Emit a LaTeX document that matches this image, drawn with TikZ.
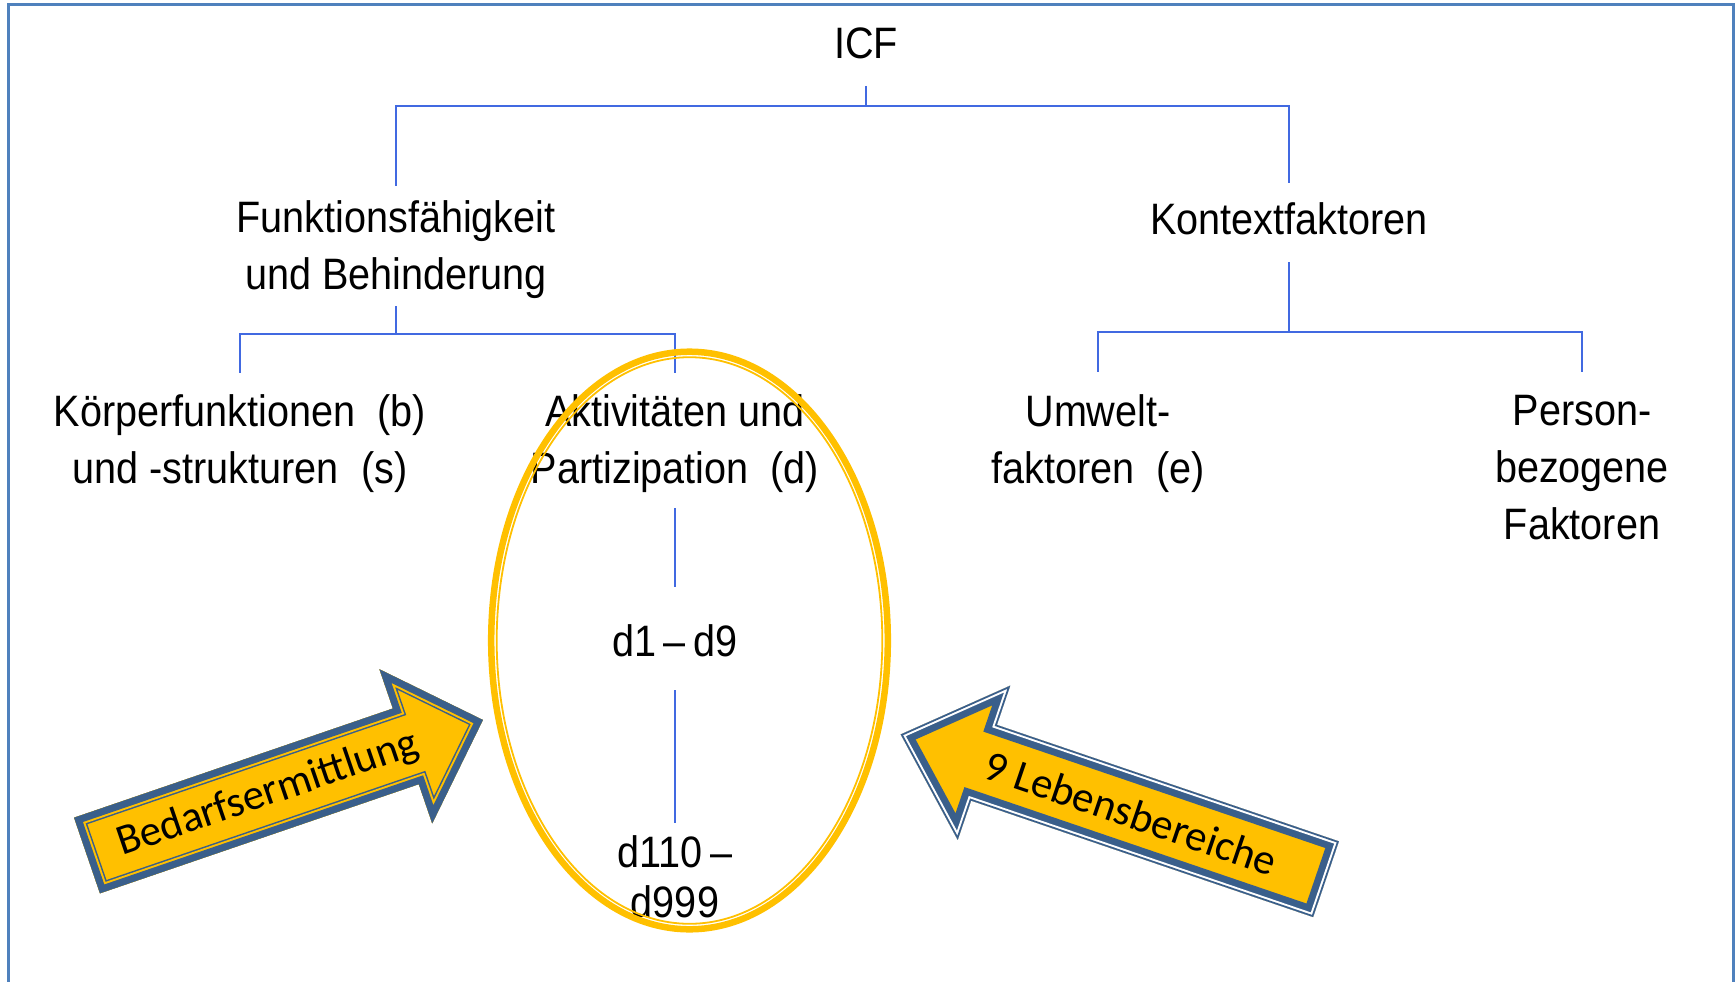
\documentclass[tikz,border=0pt]{standalone}
\usepackage{fontspec}
\newfontfamily\arialfont{Liberation Sans}[FakeStretch=0.9]
\newfontfamily\calibrifont{Carlito}
\definecolor{cgold}{HTML}{FFC000}
\definecolor{carrow}{HTML}{3A5F8B}
\definecolor{cline}{HTML}{4169E1}
\definecolor{cframe}{HTML}{4F81BD}
% block arrow along x: #1 = length, #2 = head length
\newcommand{\blockarrow}[2]{(0,-40) -- ({#1-#2},-40) -- ({#1-#2},-81.5) -- (#1,0) -- ({#1-#2},81.5) -- ({#1-#2},40) -- (0,40) -- cycle}

\begin{document}
\begin{tikzpicture}[
  x=1pt, y=-1pt,
  font=\arialfont\fontsize{44}{57}\selectfont,
  lbl/.style={align=center, inner sep=0pt},
  conn/.style={draw=cline, line width=2pt},
  frame/.style={draw=cframe, line width=3pt},
  ring/.style={draw=cgold},
  arrtext/.style={font=\calibrifont\fontsize{43}{50}\selectfont, inner sep=0pt},
  ]
\useasboundingbox (0,0) rectangle (1735,982);
\draw[frame] (8,982) |- (1733,5) -- (1733,982);

% block arrows
\begin{scope}[shift={(87,855.5)}, rotate=18.9]
  \clip \blockarrow{418.5}{81.5};
  \fill[cgold] \blockarrow{418.5}{81.5};
  \foreach \w/\c in {21pt/carrow, 18pt/cgold, 14pt/carrow}
    \draw[line width=\w, \c] \blockarrow{418.5}{81.5};
\end{scope}
\begin{scope}[shift={(1326,879.2)}, rotate=161.2]
  \clip \blockarrow{449.3}{88};
  \fill[cgold] \blockarrow{449.3}{88};
  \foreach \w/\c in {21.4pt/carrow, 7.4pt/white, 3.4pt/carrow}
    \draw[line width=\w, \c] \blockarrow{449.3}{88};
\end{scope}
\node[arrtext, rotate=18.9] (bedarf) at (268,794) {Bedarfsermittlung};
\node[arrtext, rotate=-18.8] (lebens) at (1131,813) {9 Lebensbereiche};

% tree
\node[lbl] (icf) at (866,43) {ICF};
\node[lbl] (fb) at (396,250) {Funktionsfähigkeit\\und Behinderung};
\node[lbl] (kf) at (1289,219) {Kontextfaktoren};
\node[lbl] (kp) at (240,444) {Körperfunktionen\ \ (b)\\und -strukturen\ \ (s)};
\node[lbl] (ap) at (675,444) {Aktivitäten und\\Partizipation\ \ (d)};
\node[lbl] (uf) at (1098,444) {Umwelt-\\faktoren\ \ (e)};
\node[lbl] (pf) at (1582,468) {Person-\\bezogene\\Faktoren};
\node[lbl] (d19) at (675,641) {d1\,–\,d9};
\node[lbl, font=\arialfont\fontsize{44}{50}\selectfont] (d110) at (675,877) {d110\,–\\d999};

\coordinate (j0) at (866,106);
\coordinate (j1) at (396,334);
\coordinate (j2) at (1289,332);
\draw[conn] ([yshift=-27pt]icf.south) -- (j0);
\draw[conn] ([yshift=15pt]fb.north) |- (j0) -| ([yshift=20pt]kf.north);
\draw[conn] ([yshift=-7pt]fb.south) -- (j1);
\draw[conn] ([yshift=22pt]kp.north) |- (j1) -| ([yshift=22pt]ap.north);
\draw[conn] ([yshift=-27pt]kf.south) -- (j2);
\draw[conn] ([yshift=23pt]uf.north) |- (j2) -| ([yshift=23pt]pf.north);
\draw[conn] ([yshift=-15pt]ap.south) -- ([yshift=38pt]d19.north);
\draw[conn] ([yshift=-33pt]d19.south) -- ([yshift=13pt]d110.north);

% ring round the activity branch
\draw[ring, line width=6.5pt] (689.5,640.5) ellipse [x radius=198.3pt, y radius=288.8pt];
\draw[ring, line width=1.8pt] (689.5,640.5) ellipse [x radius=192.8pt, y radius=283.3pt];
\end{tikzpicture}
\end{document}
